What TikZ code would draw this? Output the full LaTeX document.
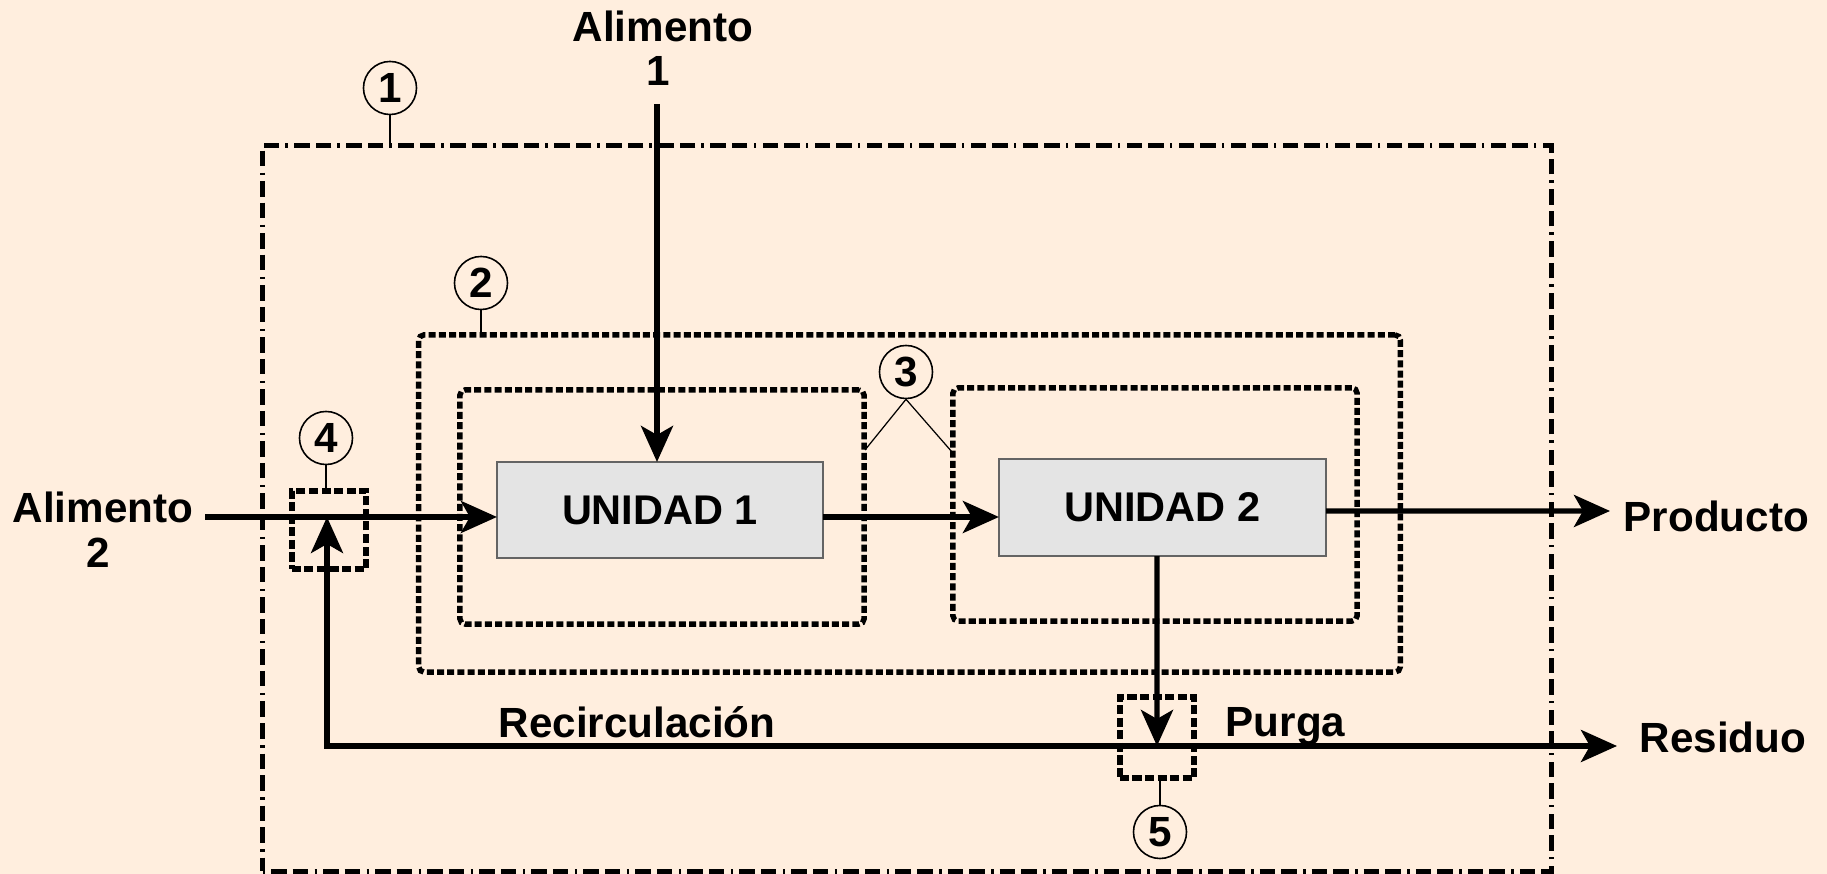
\documentclass[tikz,border=0pt]{standalone}
\usepackage{fontspec}
\setmainfont{Liberation Sans}
\usetikzlibrary{arrows.meta,calc}
\definecolor{bgcol}{RGB}{255,238,222}
\definecolor{unitfill}{RGB}{228,228,228}
\definecolor{unitborder}{RGB}{100,100,100}
\tikzset{
  flow/.style={line width=1.5pt,-{Stealth[length=0.36cm,width=0.32cm,inset=0.09cm]}},
  unitbox/.style={draw=unitborder,line width=0.5pt,fill=unitfill,inner sep=0pt,outer sep=0pt,
    font=\bfseries\fontsize{11.8}{13}\selectfont},
  sysouter/.style={draw,line width=1.35pt,inner sep=0pt,outer sep=0pt,
    dash pattern=on 0.025cm off 0.06cm on 0.155cm off 0.06cm on 0.155cm off 0.065cm},
  sysbox/.style={draw,line width=1.55pt,inner sep=0pt,outer sep=0pt,rounded corners=1.5pt,
    dash pattern=on 0.07cm off 0.032cm},
  junction/.style={draw,line width=1.55pt,inner sep=0pt,outer sep=0pt,
    dash pattern=on 0.09cm off 0.035cm},
  tag/.style={circle,draw,line width=0.45pt,minimum size=0.53cm,inner sep=0pt,
    font=\bfseries\fontsize{12}{14}\selectfont},
  leader/.style={line width=0.35pt},
  lbl/.style={inner sep=0pt,font=\bfseries\fontsize{12}{14}\selectfont},
}
\begin{document}
\begin{tikzpicture}[x=0.01cm,y=-0.01cm]
\useasboundingbox (0,0) rectangle (1827,874);
\fill[bgcol] (0,0) rectangle (1827,874);

% system boundaries
\node[sysouter,minimum width=12.88cm,minimum height=7.25cm] (outer) at (907,508.5) {};
\node[sysbox,minimum width=9.81cm,minimum height=3.37cm] (box2) at (909.5,503.5) {};
\node[sysbox,minimum width=4.04cm,minimum height=2.34cm] (box3a) at (662,507) {};
\node[sysbox,minimum width=4.04cm,minimum height=2.33cm] (box3b) at (1155,504.5) {};
\node[junction,minimum width=0.74cm,minimum height=0.78cm] (box4) at (329,530) {};
\node[junction,minimum width=0.74cm,minimum height=0.81cm] (box5) at (1157,737.5) {};

% tags
\node[tag] (c1) at (390,88) {1};
\node[tag] (c2) at (481,283) {2};
\node[tag] (c3) at (906,372) {3};
\node[tag] (c4) at (326,438) {4};
\node[tag] (c5) at (1160,832) {5};
\draw[leader] (c1.south) -- (c1.south |- outer.north);
\draw[leader] (c2.south) -- (c2.south |- box2.north);
\coordinate (l3a) at (865,450);
\coordinate (l3b) at (952,452);
\draw[leader] (l3a) -- (c3.south) -- (l3b);
\draw[leader] (c4.south) -- (c4.south |- box4.north);
\draw[leader] (c5.north) -- (c5.north |- box5.south);

% units
\node[unitbox,minimum width=3.26cm,minimum height=0.96cm] (u1) at (660,510) {UNIDAD 1};
\node[unitbox,minimum width=3.27cm,minimum height=0.97cm] (u2) at (1162.5,507.5) {UNIDAD 2};

% labels
\node[lbl,anchor=base] (a1a) at (663,42) {Alimento};
\node[lbl,anchor=base] (a1b) at (658,86) {1};
\node[lbl,anchor=base] (a2a) at (103,523) {Alimento};
\node[lbl,anchor=base] (a2b) at (98,568) {2};
\node[lbl,anchor=base west] (prod) at (1623,532) {Producto};
\node[lbl,anchor=base west] (resid) at (1639,753) {Residuo};
\node[lbl,anchor=base west] (purga) at (1225,737) {Purga};
\node[lbl,anchor=base west] (recirc) at (498,738) {Recirculación};

% streams
\coordinate (a1s) at (657,104);
\coordinate (a2s) at (205,517);
\coordinate (mix4) at (327,517);
\coordinate (split5) at (1157,746);
\coordinate (ptip) at (1610,511);
\coordinate (rtip) at (1617,746);

\draw[flow] (a1s) -- (a1s |- u1.north);
\draw[flow] (a2s) -- (a2s -| u1.west);
\draw[flow] ([yshift=-0.07cm]u1.east) -- ([yshift=-0.07cm]u1.east -| u2.west);
\draw[flow] ([yshift=-0.035cm]u2.east) -- (ptip);
\draw[flow] ([xshift=-0.055cm]u2.south) -- (split5);
\draw[flow] (split5) -| (mix4);
\draw[flow] (split5) -- (rtip);
\end{tikzpicture}
\end{document}
